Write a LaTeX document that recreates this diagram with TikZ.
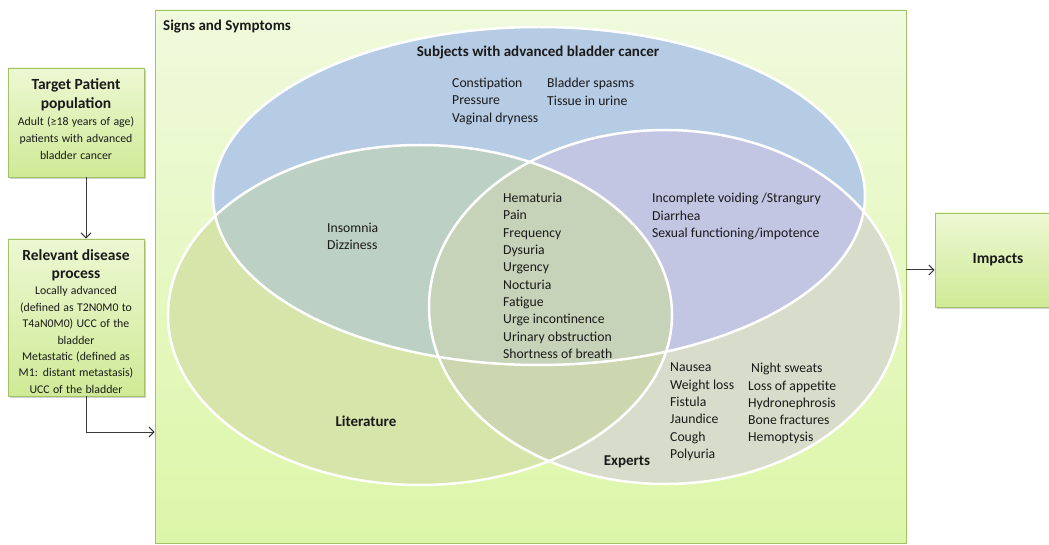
\documentclass[tikz,border=0pt]{standalone}
\usepackage{fontspec}
\setmainfont{Carlito}
\usetikzlibrary{shadows,arrows.meta}

% region colours of the three-set diagram
\definecolor{cBlue}{HTML}{B6CBE4}
\definecolor{cGreen}{HTML}{D6E5A9}
\definecolor{cExp}{HTML}{D8DDCB}
\definecolor{cTeal}{HTML}{BDD0C4}
\definecolor{cPurple}{HTML}{C3C6E2}
\definecolor{cGE}{HTML}{CCD6AF}
\definecolor{cTriple}{HTML}{C6D3B9}
% frames and boxes
\definecolor{frameline}{HTML}{A3C166}
\definecolor{bgTop}{HTML}{F0FADD}
\definecolor{bgBot}{HTML}{DCF6A8}
\definecolor{boxTop}{HTML}{EDF8D3}
\definecolor{boxBot}{HTML}{CFEA96}
\definecolor{arrowgray}{HTML}{3A3A3A}
\definecolor{txt}{HTML}{1A1A1A}

% the three sets
\def\subjE{(539,196) ellipse [x radius=326pt, y radius=169pt]}
\def\litE{(420,315) ellipse [x radius=252pt, y radius=170pt]}
\def\expE{(665,307) ellipse [x radius=236pt, y radius=177pt]}

\tikzset{
  flowbox/.style={draw=frameline, line width=0.8pt, top color=boxTop, bottom color=boxBot,
    drop shadow={shadow xshift=2pt, shadow yshift=-2pt, opacity=0.3, fill=black!60},
    inner sep=0pt, text=txt},
  bigbox/.style={draw=frameline, line width=0.8pt, top color=bgTop, bottom color=bgBot, inner sep=0pt},
  arr/.style={draw=arrowgray, line width=1pt, -{Straight Barb[length=5pt,width=10pt]}},
  ttl/.style={font=\fontsize{15}{17}\selectfont\bfseries, text=txt, inner sep=0pt},
  lst/.style={font=\fontsize{13.7}{17.3}\selectfont, text=txt, align=left, anchor=north west, inner sep=0pt},
  setline/.style={draw=white, line width=2.5pt}
}

\begin{document}
\begin{tikzpicture}[x=1pt,y=-1pt]
\useasboundingbox (0,0) rectangle (1049,545);

% outer frame of signs and symptoms
\node[bigbox, minimum width=751pt, minimum height=533pt] (ss) at (530.5,276.5) {};

% filled regions of the three sets
\fill[cBlue] \subjE;
\fill[cGreen] \litE;
\fill[cExp] \expE;
\begin{scope}
  \clip \subjE;
  \fill[cTeal] \litE;
  \fill[cPurple] \expE;
\end{scope}
\begin{scope}
  \clip \litE;
  \fill[cGE] \expE;
  \clip \subjE;
  \fill[cTriple] \expE;
\end{scope}
\draw[setline] \subjE;
\draw[setline] \litE;
\draw[setline] \expE;

% left-hand flow boxes
\node[flowbox, minimum width=136pt, minimum height=109pt, text width=134pt, align=center] (tp) at (76,122.5)
  {{\fontsize{15.5}{19}\selectfont\bfseries Target Patient\\population\par}
   {\fontsize{11.8}{17}\selectfont Adult (≥18 years of age)\\patients with advanced\\bladder cancer\par}\vspace{6pt}};
\node[flowbox, minimum width=136pt, minimum height=157pt, text width=134pt, align=center] (rd) at (76,317.5)
  {{\fontsize{15.5}{18}\selectfont\bfseries Relevant disease\\process\par}
   {\fontsize{11.8}{16.4}\selectfont Locally advanced\\(defined as T2N0M0 to\\T4aN0M0) UCC of the\\bladder\\Metastatic (defined as\\M1: distant metastasis)\\UCC of the bladder\par}\vspace{-8pt}};

% right-hand box
\node[flowbox, minimum width=126pt, minimum height=94pt, font=\fontsize{15.5}{18}\selectfont\bfseries] (im) at (998,260) {Impacts};

% connectors
\coordinate (turn) at (0,432);
\coordinate (outy) at (0,270);
\draw[arr] ([xshift=10pt]tp.south) -- ([xshift=10pt]rd.north);
\draw[arr] ([xshift=10pt]rd.south) |- (ss.west |- turn);
\draw[arr] (ss.east |- outy) -- (im.west |- outy);

% titles
\node[ttl, anchor=west] (sstitle) at (163,27) {Signs and Symptoms};
\node[ttl] (subjtitle) at (538,53) {Subjects with advanced bladder cancer};
\node[ttl] (littitle) at (366,421) {Literature};
\node[ttl] (exptitle) at (627,462) {Experts};

% symptom lists
\node[lst] (subjA) at (452,78) {Constipation\\Pressure\\Vaginal dryness};
\node[lst] (subjB) at (547,78) {Bladder spasms\\Tissue in urine};
\node[lst] (litsub) at (327,223) {Insomnia\\Dizziness};
\node[lst] (allthree) at (503,193) {Hematuria\\Pain\\Frequency\\Dysuria\\Urgency\\Nocturia\\Fatigue\\Urge incontinence\\Urinary obstruction\\Shortness of breath};
\node[lst] (subjexp) at (652,193) {Incomplete voiding /Strangury\\Diarrhea\\Sexual functioning/impotence};
\node[lst] (expA) at (670,363) {Nausea\\Weight loss\\Fistula\\Jaundice\\Cough\\Polyuria};
\node[lst] (expB) at (748,363) {\hspace*{3pt}Night sweats\\Loss of appetite\\Hydronephrosis\\Bone fractures\\Hemoptysis};
\end{tikzpicture}
\end{document}
